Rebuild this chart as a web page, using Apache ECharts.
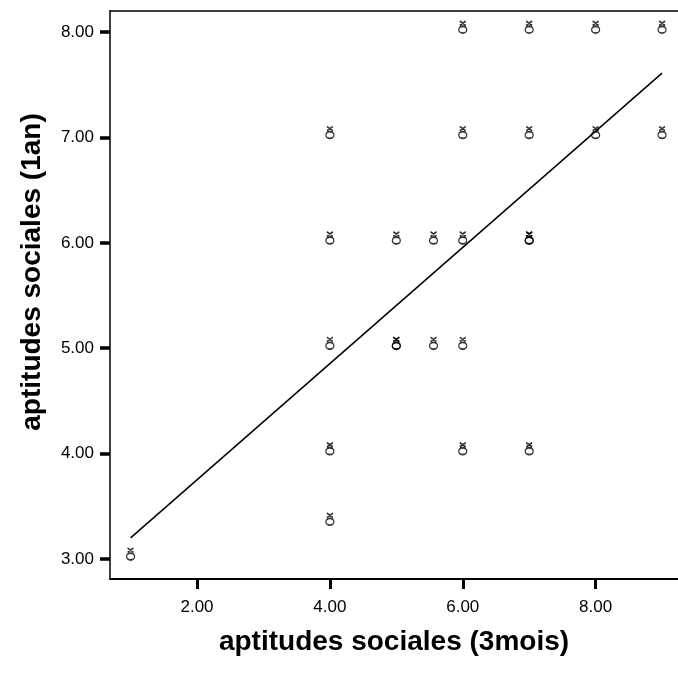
<!DOCTYPE html>
<html>
<head>
<meta charset="utf-8">
<script src="https://cdn.jsdelivr.net/npm/echarts@6/dist/echarts.min.js"></script>
<style>
  html, body { margin: 0; padding: 0; background: #fff; }
  #chart { width: 678px; height: 676px; }
</style>
</head>
<body>
<div id="chart"></div>
<script>
// données
const scoresX = [1, 4, 4, 6, 7, 4, 5, 5, 5.56, 6, 4, 5, 5.56, 6, 7, 7, 4, 6, 7, 8, 9, 6, 7, 8, 9];
const scoresY = [3, 3.33, 4, 4, 4, 5, 5, 5, 5, 5, 6, 6, 6, 6, 6, 6, 7, 7, 7, 7, 7, 8, 8, 8, 8];
// droite de régression (extrémités)
const fitX = [1, 9];
const fitY = [3.2, 7.61];
const xTicks = [2, 4, 6, 8];
const yTicks = [3, 4, 5, 6, 7, 8];

const points = scoresX.map((x, i) => [x, scoresY[i]]);
const fit = fitX.map((x, i) => [x, fitY[i]]);

// petit glyphe : croix au-dessus d'un cercle
const glyph = "path://M2,0 L8,5 M8,0 L2,5 M9,10 A4,4 0 1 1 1,10 A4,4 0 1 1 9,10 Z";

const chart = echarts.init(document.getElementById("chart"));
const fmt = (v) => Number(v).toFixed(2);

chart.setOption({
  animation: false,
  textStyle: { fontFamily: "Liberation Sans, Arial, sans-serif" },
  grid: { left: 110, top: 11, right: -3, bottom: 97 },
  // titre de l'axe vertical
  graphic: [
    {
      type: "text",
      x: 32,
      y: 272,
      rotation: Math.PI / 2,
      style: {
        text: "aptitudes sociales (1an)",
        align: "center",
        verticalAlign: "middle",
        font: "bold 28px 'Liberation Sans', Arial, sans-serif",
        fill: "#000",
      },
    },
  ],
  xAxis: [
    {
      type: "value",
      min: 0.69,
      max: 9.24,
      name: "aptitudes sociales (3mois)",
      nameLocation: "middle",
      nameGap: 49,
      nameTextStyle: { fontSize: 28, fontWeight: "bold", color: "#000" },
      axisLine: { show: true, lineStyle: { color: "#000", width: 2 } },
      axisTick: { show: true, customValues: xTicks, length: 10, lineStyle: { color: "#000", width: 3 } },
      axisLabel: { customValues: xTicks, formatter: fmt, fontSize: 17, color: "#000", margin: 20 },
      splitLine: { show: false },
    },
    {
      type: "value",
      position: "top",
      min: 0.69,
      max: 9.24,
      axisLine: { show: true, lineStyle: { color: "#000", width: 1.5 } },
      axisTick: { show: false },
      axisLabel: { show: false },
      splitLine: { show: false },
    },
  ],
  yAxis: {
    type: "value",
    min: 2.81,
    max: 8.2,
    axisLine: { show: true, lineStyle: { color: "#000", width: 1.5 } },
    axisTick: { show: true, customValues: yTicks, length: 10, lineStyle: { color: "#000", width: 3.5 } },
    axisLabel: { customValues: yTicks, formatter: fmt, fontSize: 17, color: "#000", margin: 16 },
    splitLine: { show: false },
  },
  series: [
    {
      type: "scatter",
      data: points,
      symbol: glyph,
      symbolSize: [8, 12],
      symbolOffset: [0, -5],
      itemStyle: { color: "rgba(0,0,0,0)", borderColor: "#000", borderWidth: 1.5 },
    },
    {
      type: "line",
      data: fit,
      symbol: "none",
      lineStyle: { color: "#000", width: 1.5 },
    },
  ],
});
</script>
</body>
</html>
